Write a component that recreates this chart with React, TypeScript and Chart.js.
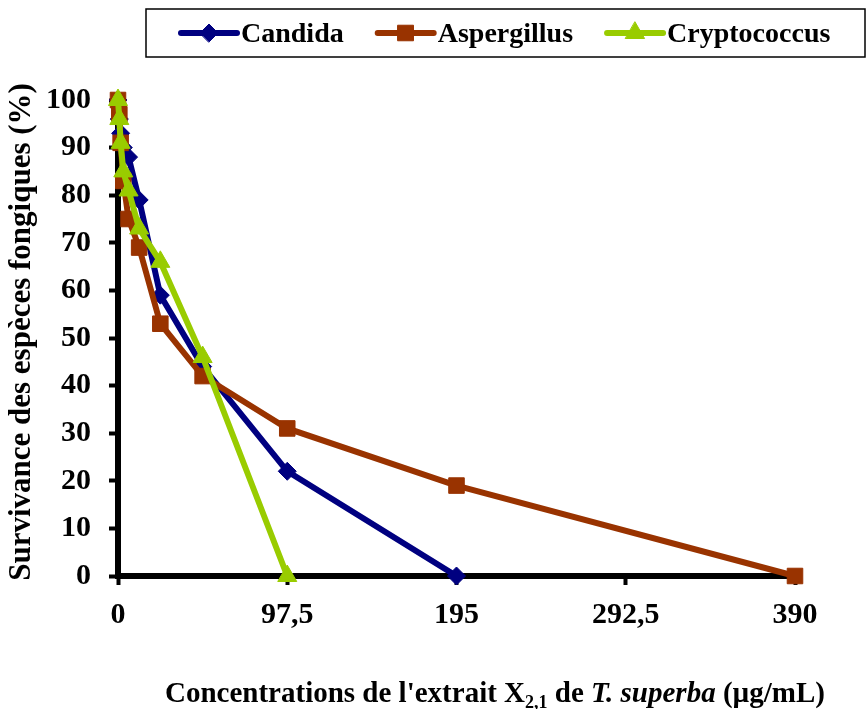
import React, { useEffect, useRef } from 'react';
import { Chart, registerables } from 'chart.js';
import { drawPoint } from 'chart.js/helpers';

Chart.register(...registerables);

// ---- data ----
const concentrations = [0, 0.76, 1.52, 3.05, 6.09, 12.19, 24.38, 48.75, 97.5, 195, 390];
const candida = [100, 96, 93, 90, 88, 79, 59, 44, 22, 0];
const aspergillus = [100, 97, 91, 83, 75, 69, 53, 42, 31, 19, 0];
const cryptococcus = [100, 96, 91, 85, 81, 73, 66, 46, 0];
const seriesNames = ['Candida', 'Aspergillus', 'Cryptococcus'];
const xTickValues = [0, 97.5, 195, 292.5, 390];
const yTitle = 'Survivance des espèces fongiques (%)';
const xTitleParts = [
  { text: "Concentrations de l'extrait X", kind: 'normal' },
  { text: '2,1', kind: 'sub' },
  { text: ' de ', kind: 'normal' },
  { text: 'T. superba', kind: 'italic' },
  { text: ' (µg/mL)', kind: 'normal' },
];

const FAMILY = '"Liberation Serif", "Times New Roman", serif';

const toPoints = (vals: number[]) => vals.map((v, i) => ({ x: concentrations[i], y: v }));

const overlayPlugin = {
  id: 'overlayTexts',
  afterDraw(chart: any) {
    const ctx = chart.ctx as CanvasRenderingContext2D;
    ctx.save();
    // legend box
    ctx.strokeStyle = '#000';
    ctx.lineWidth = 1.5;
    ctx.strokeRect(146, 9, 719, 48);
    ctx.textBaseline = 'alphabetic';
    ctx.textAlign = 'left';
    let x = 181;
    const y = 33;
    chart.data.datasets.forEach((ds: any) => {
      ctx.strokeStyle = ds.borderColor;
      ctx.lineWidth = 6;
      ctx.lineCap = 'round';
      ctx.beginPath();
      ctx.moveTo(x, y);
      ctx.lineTo(x + 56, y);
      ctx.stroke();
      ctx.fillStyle = ds.pointBackgroundColor;
      ctx.strokeStyle = ds.pointBorderColor;
      ctx.lineWidth = 1;
      drawPoint(ctx, { pointStyle: ds.pointStyle, radius: ds.pointRadius, rotation: 0, borderWidth: 1 } as any, x + 28, y);
      ctx.fillStyle = '#000';
      ctx.font = `bold 28px ${FAMILY}`;
      ctx.fillText(ds.label, x + 60, 42);
      x = x + 60 + ctx.measureText(ds.label).width + 34;
    });

    // y title
    ctx.save();
    ctx.translate(22, 332);
    ctx.rotate(-Math.PI / 2);
    ctx.font = `bold 31px ${FAMILY}`;
    ctx.textAlign = 'center';
    ctx.textBaseline = 'middle';
    ctx.fillStyle = '#000';
    ctx.fillText(yTitle, 0, 0);
    ctx.restore();

    // x title with mixed styles
    const fontFor = (k: string) =>
      k === 'sub' ? `bold 18px ${FAMILY}` : k === 'italic' ? `italic bold 29px ${FAMILY}` : `bold 29px ${FAMILY}`;
    let total = 0;
    xTitleParts.forEach((p) => {
      ctx.font = fontFor(p.kind);
      total += ctx.measureText(p.text).width;
    });
    let tx = 495 - total / 2;
    const base = 702;
    ctx.textAlign = 'left';
    ctx.textBaseline = 'alphabetic';
    ctx.fillStyle = '#000';
    xTitleParts.forEach((p) => {
      ctx.font = fontFor(p.kind);
      ctx.fillText(p.text, tx, p.kind === 'sub' ? base + 6 : base);
      tx += ctx.measureText(p.text).width;
    });
    ctx.restore();
  },
};

export default function App() {
  const ref = useRef<HTMLCanvasElement | null>(null);
  useEffect(() => {
    document.body.style.margin = '0';
    if (!ref.current) return;
    const common = { borderWidth: 6, tension: 0, clip: false as any, pointBorderWidth: 1 };
    const chart = new Chart(ref.current, {
      type: 'line',
      data: {
        datasets: [
          {
            ...common,
            label: seriesNames[0],
            data: toPoints(candida),
            borderColor: '#000080',
            backgroundColor: '#000080',
            pointBackgroundColor: '#000080',
            pointBorderColor: '#000080',
            pointStyle: 'rectRot',
            pointRadius: 9,
            order: 2,
          },
          {
            ...common,
            label: seriesNames[1],
            data: toPoints(aspergillus),
            borderColor: '#993300',
            backgroundColor: '#993300',
            pointBackgroundColor: '#993300',
            pointBorderColor: '#993300',
            pointStyle: 'rect',
            pointRadius: 11,
            order: 1,
          },
          {
            ...common,
            label: seriesNames[2],
            data: toPoints(cryptococcus),
            borderColor: '#99CC00',
            backgroundColor: '#99CC00',
            pointBackgroundColor: '#99CC00',
            pointBorderColor: '#99CC00',
            pointStyle: 'triangle',
            pointRadius: 11,
            order: 0,
          },
        ] as any,
      },
      options: {
        animation: false,
        responsive: true,
        maintainAspectRatio: false,
        layout: { padding: { left: 0, top: 100, right: 72, bottom: 0 } },
        plugins: { legend: { display: false }, tooltip: { enabled: false } },
        scales: {
          x: {
            type: 'linear',
            min: 0,
            max: 390,
            afterBuildTicks: (s: any) => {
              s.ticks = xTickValues.map((v) => ({ value: v }));
            },
            afterFit: (s: any) => {
              s.height = 133;
            },
            border: { display: true, color: '#000', width: 6 },
            grid: { drawOnChartArea: false, drawTicks: true, tickLength: 9, tickWidth: 4, tickColor: '#000' },
            ticks: {
              color: '#000',
              font: { family: FAMILY, size: 30, weight: 'bold' },
              padding: 12,
              maxRotation: 0,
              autoSkip: false,
              callback: (v: any) => String(v).replace('.', ','),
            },
          },
          y: {
            min: 0,
            max: 100,
            afterFit: (s: any) => {
              s.width = 118;
            },
            border: { display: true, color: '#000', width: 6 },
            grid: { drawOnChartArea: false, drawTicks: true, tickLength: 9, tickWidth: 4, tickColor: '#000' },
            ticks: {
              stepSize: 10,
              color: '#000',
              font: { family: FAMILY, size: 30, weight: 'bold' },
              padding: 18,
            },
          },
        },
      } as any,
      plugins: [overlayPlugin],
    });
    return () => chart.destroy();
  }, []);
  return (
    <div style={{ position: 'relative', width: 867, height: 709 }}>
      <canvas ref={ref} />
    </div>
  );
}
